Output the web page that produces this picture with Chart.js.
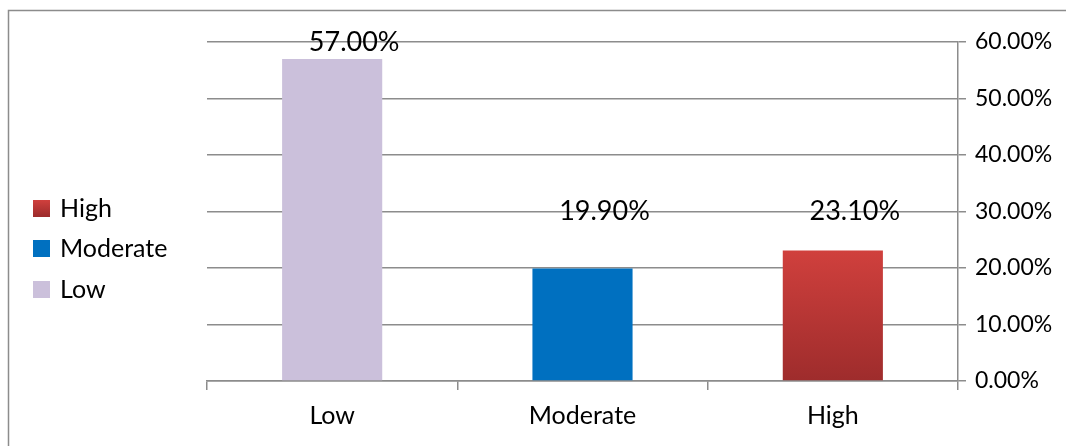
<!DOCTYPE html>
<html><head><meta charset="utf-8">
<script src="https://cdn.jsdelivr.net/npm/chart.js@4/dist/chart.umd.min.js"></script>
<style>html,body{margin:0;padding:0;background:#fff}#wrap{width:1066px;height:446px;position:relative}</style>
</head><body><div id="wrap"><canvas id="c"></canvas></div>
<script>
const categories = ['Low', 'Moderate', 'High'];
const values = [57.0, 19.9, 23.1];
const dataLabels = ['57.00%', '19.90%', '23.10%'];
const labelLevels = [60, 30, 30];
const yTicks = [0, 10, 20, 30, 40, 50, 60];
const FONT = 'Lato, "Open Sans", sans-serif';

function redGrad(ctx, top, bottom) {
  const g = ctx.createLinearGradient(0, top, 0, bottom);
  g.addColorStop(0, '#D0403D');
  g.addColorStop(1, '#9E2C2C');
  return g;
}
function barColor(c) {
  const i = c.dataIndex;
  if (i === 0) return '#CBC0DB';
  if (i === 1) return '#0070C0';
  const ch = c.chart;
  if (!ch.chartArea) return '#B83535';
  const y = ch.scales.y;
  return redGrad(ch.ctx, y.getPixelForValue(values[i]), y.getPixelForValue(0));
}

const framePlugin = {
  id: 'frame',
  beforeDraw(ch) {
    const ctx = ch.ctx;
    ctx.save();
    ctx.strokeStyle = '#8C8C8C';
    ctx.lineWidth = 1.5;
    ctx.strokeRect(8.5, 10.5, 1066, 446);
    ctx.restore();
  }
};

const labelPlugin = {
  id: 'vlabels',
  afterDatasetsDraw(ch) {
    const ctx = ch.ctx;
    const meta = ch.getDatasetMeta(0);
    const y = ch.scales.y;
    ctx.save();
    ctx.font = '27px ' + FONT;
    ctx.fillStyle = '#000';
    ctx.textAlign = 'center';
    ctx.textBaseline = 'middle';
    meta.data.forEach((bar, i) => {
      ctx.fillText(dataLabels[i], bar.x + 22, y.getPixelForValue(labelLevels[i]));
    });
    ctx.restore();
  }
};

const legendPlugin = {
  id: 'sideLegend',
  afterDraw(ch) {
    const ctx = ch.ctx;
    const order = [2, 1, 0];
    const ys = [208, 248, 289];
    ctx.save();
    ctx.font = '25px ' + FONT;
    ctx.textBaseline = 'middle';
    order.forEach((idx, k) => {
      const cy = ys[k];
      if (idx === 2) ctx.fillStyle = redGrad(ctx, cy - 8, cy + 8);
      else ctx.fillStyle = idx === 1 ? '#0070C0' : '#CBC0DB';
      ctx.fillRect(33, cy - 8, 17, 17);
      ctx.fillStyle = '#000';
      ctx.fillText(categories[idx], 60, cy + 1);
    });
    ctx.restore();
  }
};

new Chart(document.getElementById('c'), {
  type: 'bar',
  data: {
    labels: categories,
    datasets: [{
      data: values,
      backgroundColor: barColor,
      borderWidth: 0,
      barPercentage: 0.4,
      categoryPercentage: 1.0
    }]
  },
  options: {
    responsive: true,
    maintainAspectRatio: false,
    animation: false,
    layout: { padding: { left: 207, right: 0, top: 42, bottom: 0 } },
    plugins: { legend: { display: false }, tooltip: { enabled: false } },
    scales: {
      x: {
        grid: { drawOnChartArea: false, drawTicks: true, tickLength: 9, color: '#8C8C8C', lineWidth: 1.5, offset: true },
        border: { display: true, color: '#8C8C8C', width: 1.5 },
        ticks: { color: '#000', font: { family: FONT, size: 25 }, padding: 11 },
        afterFit(s) { s.height = 65; }
      },
      y: {
        position: 'right',
        min: 0, max: 60,
        afterBuildTicks(s) { s.ticks = yTicks.map(v => ({ value: v })); },
        grid: { color: '#8C8C8C', lineWidth: 1.5, drawTicks: true, tickLength: 8 },
        border: { display: true, color: '#8C8C8C', width: 1.5 },
        ticks: { color: '#000', font: { family: FONT, size: 23 }, padding: 9, crossAlign: 'near',
          callback: v => v.toFixed(2) + '%' },
        afterFit(s) { s.width = 108; }
      }
    }
  },
  plugins: [framePlugin, labelPlugin, legendPlugin]
});
</script></body></html>
